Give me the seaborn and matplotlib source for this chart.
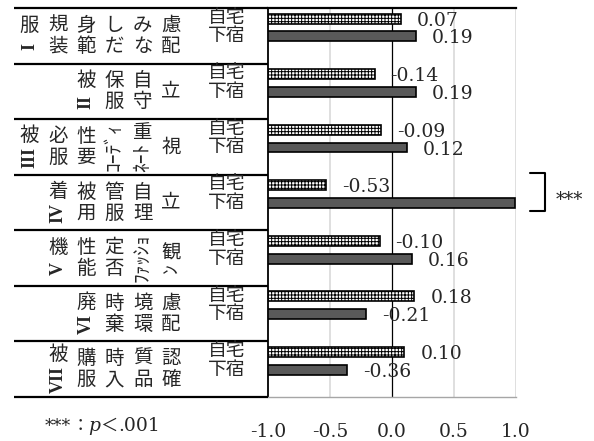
import numpy as np
import pandas as pd
import matplotlib
matplotlib.use("Agg")
import matplotlib.pyplot as plt
import seaborn as sns
from matplotlib.font_manager import FontProperties
from matplotlib.lines import Line2D
from matplotlib.patches import Rectangle

# ---------------- data ----------------
factor_numerals = ["I", "II", "III", "IV", "V", "VI", "VII"]
factor_lines = [
    ["服", "装規", "範身", "だし", "なみ", "配慮"],
    ["被", "服保", "守自", "立"],
    ["被", "服必", "要性", "ｺｰﾃﾞｨ", "ﾈｰﾄ重", "視"],
    ["着", "用被", "服管", "理自", "立"],
    ["機", "能性", "否定", "ﾌｧｯｼｮ", "ﾝ観"],
    ["廃", "棄時", "環境", "配慮"],
    ["被", "服購", "入時", "品質", "確認"],
]
groups = ["自宅", "下宿"]
jitaku = [0.07, -0.14, -0.09, -0.53, -0.10, 0.18, 0.10]
geshuku = [0.19, 0.19, 0.12, 0.99, 0.16, -0.21, -0.36]
jitaku_labels = ["0.07", "-0.14", "-0.09", "-0.53", "-0.10", "0.18", "0.10"]
geshuku_labels = ["0.19", "0.19", "0.12", "", "0.16", "-0.21", "-0.36"]
x_ticks = [-1.0, -0.5, 0.0, 0.5, 1.0]
x_tick_labels = ["-1.0", "-0.5", "0.0", "0.5", "1.0"]
sig_factor = 3
sig_text = "***"
footnote_parts = ["***", "：", "p", "＜", ".001"]

# ---------------- frame ----------------
factor_names = [num + "".join(lines) for num, lines in zip(factor_numerals, factor_lines)]
base = x_ticks[0]  # bars grow from the axis crossing at -1.0
df = pd.DataFrame({
    "factor": factor_names * 2,
    "group": [groups[0]] * len(jitaku) + [groups[1]] * len(geshuku),
    "value": jitaku + geshuku,
})
df["bar_len"] = df["value"] - base

sns.set_theme(style="white")
plt.rcParams["font.family"] = ["DejaVu Serif", "Noto Sans CJK JP"]
plt.rcParams["axes.unicode_minus"] = False
plt.rcParams["hatch.linewidth"] = 0.7
plt.rcParams["hatch.color"] = "black"

W, H = 594, 441
fig = plt.figure(figsize=(W / 100, H / 100), dpi=100)
ax_l, ax_r, ax_t, ax_b = 268, 516, 8, 397
ax = fig.add_axes([ax_l / W, 1 - ax_b / H, (ax_r - ax_l) / W, (ax_b - ax_t) / H])

sns.barplot(data=df, y="factor", x="bar_len", hue="group", order=factor_names,
            hue_order=groups, orient="y", width=0.64, gap=0.44, saturation=1,
            palette={groups[0]: "white", groups[1]: "#595959"},
            edgecolor="black", linewidth=1.2, errorbar=None, legend=False,
            ax=ax, zorder=3)
for bar in ax.containers[0]:
    bar.set_hatch("+++++")

row_off = 0.35
n = len(factor_names)
ax.set_xlim(0, x_ticks[-1] - base)
ax.set_ylim(n - row_off, -row_off)
ax.set_xticks([t - base for t in x_ticks])
ax.set_xticklabels(x_tick_labels)
ax.set_yticks([])
ax.set_xlabel("")
ax.set_ylabel("")
ax.tick_params(axis="x", length=0, pad=19, labelsize=13.5)

for t in x_ticks[1:]:
    if t == 0:
        ax.axvline(t - base, color="black", lw=0.9, zorder=1.5)
    else:
        ax.axvline(t - base, color="#d9d9d9", lw=1.2, zorder=1)

ax.spines["right"].set_visible(False)
ax.spines["top"].set_color("black")
ax.spines["top"].set_linewidth(1.6)
ax.spines["left"].set_color("black")
ax.spines["left"].set_linewidth(1.3)
ax.spines["bottom"].set_color("#a6a6a6")
ax.spines["bottom"].set_linewidth(1.0)

# data labels
for cont, labels in zip(ax.containers, [jitaku_labels, geshuku_labels]):
    for bar, lab in zip(cont, labels):
        if not lab:
            continue
        xe = bar.get_x() + bar.get_width()
        yc = bar.get_y() + bar.get_height() / 2
        ax.annotate(lab, (xe, yc), xytext=(11.5, -1.5), textcoords="offset points",
                    ha="left", va="center", fontsize=13.5, family="DejaVu Serif",
                    annotation_clip=False)

# ---------------- left table ----------------
renderer = fig.canvas.get_renderer()


def fx(x):
    return x / W


def fy(y):
    return 1 - y / H


def img_y(yd):
    return H - ax.transData.transform((0, yd))[1]


def text_ext(s, fp, **kw):
    t = fig.text(0, 0, s, fontproperties=fp, **kw)
    bb = t.get_window_extent(renderer=renderer)
    t.remove()
    return bb


def text_len(s, fp):
    return text_ext(s, fp).width


for i in range(n + 1):
    yi = img_y(i - row_off)
    fig.add_artist(Line2D([fx(14), fx(ax_l)], [fy(yi), fy(yi)], color="black",
                          lw=1.6, solid_capstyle="butt"))

# 自宅 / 下宿 labels as one two-line text per row, lines aligned with the bars
fp_group = FontProperties(family="Noto Sans CJK JP", size=13.5)
two_line = "\n".join(groups)
h1 = text_ext(groups[0], fp_group).height
h2 = text_ext(two_line, fp_group, linespacing=1.0).height
for gi in range(n):
    b1, b2 = ax.containers[0][gi], ax.containers[1][gi]
    y1 = img_y(b1.get_y() + b1.get_height() / 2)
    y2 = img_y(b2.get_y() + b2.get_height() / 2)
    ls = (y2 - y1) / (h2 - h1)
    fig.text(fx(227), fy((y1 + y2) / 2 - 1), two_line, ha="center", va="center",
             ma="center", linespacing=ls, fontproperties=fp_group)

fp_cjk = FontProperties(family="Noto Sans CJK JP", size=14)
fp_lat = FontProperties(family="Liberation Serif", size=13, weight="bold")
adv_full = 21
x_right, col_step = 171, 28.3


def is_half(ch):
    return 0xFF61 <= ord(ch) <= 0xFF9F


def split_segments(s):
    segs, buf = [], ""
    for ch in s:
        if is_half(ch):
            buf += ch
        else:
            if buf:
                segs.append((buf, "half"))
                buf = ""
            segs.append((ch, "full"))
    if buf:
        segs.append((buf, "half"))
    return segs


for gi, (num, lines) in enumerate(zip(factor_numerals, factor_lines)):
    yc = img_y(gi - row_off + 0.5)
    ncol = len(lines)
    for ci, line in enumerate(lines):
        segs = split_segments(line)
        if ci == 0:
            segs = [(num, "latin")] + segs
        lens = []
        for s, kind in segs:
            if kind == "full":
                lens.append(adv_full)
            elif kind == "half":
                lens.append(text_len(s, fp_cjk))
            else:
                lens.append(max(adv_full, text_len(s, fp_lat) + 2))
        L = sum(lens)
        xc = x_right - (ncol - 1 - ci) * col_step
        ypos = yc + L / 2  # bottom in image coords
        for (s, kind), ln in zip(segs, lens):
            cy = ypos - ln / 2
            if kind == "full":
                fig.text(fx(xc), fy(cy), s, ha="center", va="center",
                         fontproperties=fp_cjk)
            elif kind == "half":
                fig.text(fx(xc), fy(cy), s, ha="center", va="center",
                         rotation=90, fontproperties=fp_cjk)
            else:
                fig.text(fx(xc), fy(cy), s, ha="center", va="center",
                         rotation=90, fontproperties=fp_lat)
            ypos -= ln

# ---------------- significance bracket ----------------
x1 = ax.transData.transform((x_ticks[-1] - base, 0))[0]
row_top = img_y(sig_factor - row_off)
b2 = ax.containers[1][sig_factor]
b2c = img_y(b2.get_y() + b2.get_height() / 2)
fig.add_artist(Rectangle((fx(x1 + 0.8), fy(row_top + 38)), fx(75), 50 / H,
                         facecolor="white", edgecolor="none", zorder=1))
yt, yb = row_top - 2, b2c + 8
bx0, bx1 = 530, 545
fig.add_artist(Line2D([fx(bx0), fx(bx1), fx(bx1), fx(bx0)], [fy(yt), fy(yt), fy(yb), fy(yb)],
                      color="black", lw=1.5, zorder=2))
fig.text(fx(556), fy(205.5), sig_text, ha="left", va="baseline",
         fontsize=13, family="DejaVu Serif", zorder=2)

# ---------------- footnote ----------------
fp_fn = [FontProperties(family="DejaVu Serif", size=12.5),
         FontProperties(family="Noto Sans CJK JP", size=12.5),
         FontProperties(family="DejaVu Serif", size=13.5, style="italic"),
         FontProperties(family="Noto Sans CJK JP", size=12.5),
         FontProperties(family="DejaVu Serif", size=13.5)]
xcur = 45
for s, fp in zip(footnote_parts, fp_fn):
    fig.text(fx(xcur), fy(431), s, ha="left", va="baseline", fontproperties=fp)
    xcur += text_len(s, fp)

fig.savefig("out.png", dpi=100)
